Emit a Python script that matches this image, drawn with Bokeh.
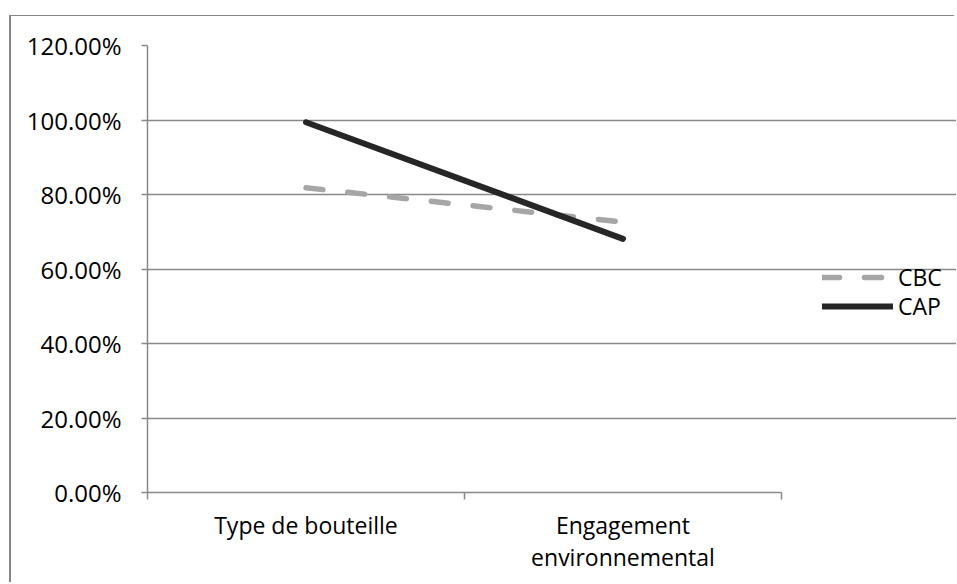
from bokeh.plotting import figure
from bokeh.models import (FixedTicker, NumeralTickFormatter, Legend, LegendItem,
                          Range1d)
from bokeh.embed import file_html
from bokeh.resources import INLINE

categories = ["Type de bouteille", "Engagement\nenvironnemental"]
series_names = ["CBC", "CAP"]
cbc_values = [0.818, 0.726]
cap_values = [0.994, 0.681]
y_ticks = [0.0, 0.2, 0.4, 0.6, 0.8, 1.0, 1.2]

FONT = "Open Sans"
GRID = "#898989"

n = len(categories)
x_pos = [i + 0.5 for i in range(n)]
boundaries = [float(i) for i in range(n + 1)]

# layout: plot area spans 634 px for the categories; the frame is extended to the
# right so that the legend (placed beside the plot area) is not clipped
CAT_PX = 634.0
FRAME_PX = 945 - 136
x_end = n * FRAME_PX / CAT_PX

p = figure(width=945, height=567, output_backend="svg", toolbar_location=None,
           x_range=Range1d(0, x_end), y_range=Range1d(y_ticks[0], y_ticks[-1]),
           min_border_left=136, min_border_right=0, min_border_top=29,
           min_border_bottom=91)
p.margin = (16, 0, 0, 11)
p.styles = {"box-shadow": "-2px -1px 0 0 #868686"}
p.outline_line_color = None
p.background_fill_color = "white"
p.border_fill_color = "white"

# lines
r_cbc = p.line(x_pos, cbc_values, line_color="#a6a6a6", line_width=5.5,
               line_dash="17 25", line_cap="round")
r_cap = p.line(x_pos, cap_values, line_color="#262626", line_width=6,
               line_cap="round")

# x axis
xa = p.xaxis[0]
xa.bounds = (0, n)
xa.ticker = FixedTicker(ticks=x_pos, minor_ticks=boundaries)
xa.major_label_overrides = {x: c for x, c in zip(x_pos, categories)}
xa.major_tick_line_color = None
xa.minor_tick_line_color = GRID
xa.minor_tick_line_width = 1.5
xa.minor_tick_out = 7
xa.minor_tick_in = 0
xa.axis_line_color = GRID
xa.axis_line_width = 1.5
xa.major_label_text_font = FONT
xa.major_label_text_font_size = "23px"
xa.major_label_text_color = "black"
xa.major_label_text_line_height = 1.0
xa.major_label_standoff = 9

# y axis
ya = p.yaxis[0]
ya.ticker = FixedTicker(ticks=y_ticks, minor_ticks=[])
ya.formatter = NumeralTickFormatter(format="0.00%")
ya.axis_line_color = GRID
ya.axis_line_width = 1.5
ya.major_tick_line_color = GRID
ya.major_tick_line_width = 1.5
ya.major_tick_out = 6
ya.major_tick_in = 0
ya.major_label_text_font = FONT
ya.major_label_text_font_size = "24px"
ya.major_label_text_color = "black"
ya.major_label_standoff = 20

p.xgrid.grid_line_color = None
p.ygrid.ticker = FixedTicker(ticks=y_ticks)
p.ygrid.bounds = (0, n)
p.ygrid.grid_line_color = GRID
p.ygrid.grid_line_width = 1.5

for name, rend, ypos in zip(series_names, [r_cbc, r_cap], [199, 170]):
    lg = Legend(items=[LegendItem(label=name, renderers=[rend])],
                location=(675, ypos), padding=0, margin=0, spacing=0,
                glyph_width=71, glyph_height=22, label_height=22,
                label_standoff=5, border_line_color=None,
                background_fill_alpha=0,
                label_text_font=FONT, label_text_font_size="23px",
                label_text_color="black")
    p.add_layout(lg)

open("out.html", "w").write(file_html(p, INLINE))
